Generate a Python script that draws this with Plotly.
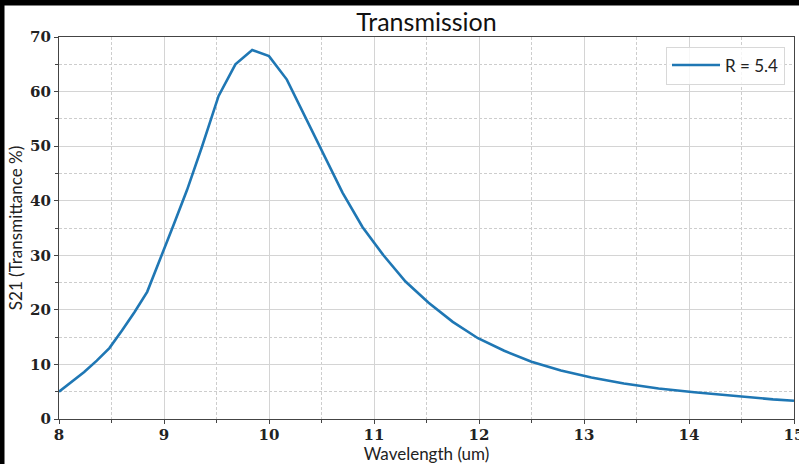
import plotly.graph_objects as go

wavelength = [8.0, 8.12, 8.24, 8.36, 8.48, 8.6, 8.72, 8.84, 8.96, 9.09, 9.22, 9.36,
              9.52, 9.68, 9.84, 10.0, 10.17, 10.34, 10.51, 10.7, 10.89, 11.09, 11.3,
              11.52, 11.75, 11.99, 12.24, 12.5, 12.78, 13.07, 13.38, 13.71, 14.05,
              14.42, 14.8, 15.0]
s21 = [5.0, 6.8, 8.6, 10.7, 13.0, 16.2, 19.6, 23.3, 29.0, 35.5, 42.0, 49.8,
       59.2, 65.0, 67.6, 66.5, 62.2, 55.6, 49.0, 41.5, 35.2, 30.0, 25.2,
       21.3, 17.8, 14.8, 12.5, 10.5, 8.9, 7.6, 6.5, 5.6, 4.9,
       4.2, 3.6, 3.35]
series_name = "R = 5.4"
x_ticks = [8, 9, 10, 11, 12, 13, 14, 15]
y_ticks = [0, 10, 20, 30, 40, 50, 60, 70]

W, H = 799, 464
L, R, T, B = 59, 5, 37, 45
pw, ph = W - L - R, H - T - B

fig = go.Figure()
fig.add_trace(go.Scatter(x=wavelength, y=s21, mode="lines", name=series_name,
                         line=dict(color="#1f77b4", width=2.6), showlegend=True))

tickfont = dict(family="DejaVu Serif", size=15, color="#222", weight="bold")
axis_common = dict(showline=True, mirror=True, linecolor="#444", linewidth=1.2,
                   showgrid=True, gridcolor="#d4d4d4", gridwidth=1,
                   ticks="outside", ticklen=4, tickcolor="#444", tickwidth=1,
                   zeroline=False, tickfont=tickfont, automargin=False,
                   ticklabeloverflow="allow")
minor_common = dict(showgrid=True, gridcolor="#cdcdcd", griddash="3px,2px",
                    ticks="outside", ticklen=3, tickcolor="#444")

fig.update_xaxes(range=[8, 15], tickvals=x_ticks, ticktext=[str(v) for v in x_ticks],
                 ticklabelstandoff=-2,
                 title=dict(text="Wavelength (um)", font=dict(family="Lato", size=17, color="#222"), standoff=5),
                 minor=dict(dtick=0.5, **minor_common),
                 **axis_common)
fig.update_yaxes(range=[0, 70], tickvals=y_ticks, ticktext=[str(v) for v in y_ticks],
                 title=dict(text="S21 (Transmittance %)", font=dict(family="Lato", size=17, color="#222"), standoff=3),
                 minor=dict(dtick=5, **minor_common),
                 **axis_common)

fig.update_layout(
    width=W, height=H,
    margin=dict(l=L, r=R, t=T, b=B, pad=0, autoexpand=False),
    paper_bgcolor="white", plot_bgcolor="white",
    title=dict(text="Transmission", x=(426.5) / W, xanchor="center", y=1 - 22 / H, yanchor="middle",
               font=dict(family="Lato", size=25, color="#111")),
    legend=dict(x=(785 - L) / pw, xanchor="right", y=(419 - 46.5) / ph, yanchor="top",
                bordercolor="#d8d8d8", borderwidth=1, bgcolor="rgba(255,255,255,0.8)",
                itemwidth=48, entrywidth=122,
                font=dict(family="Lato", size=17, color="#222")),
    showlegend=True,
)

# black bands at top and left edge of the original image
fig.add_shape(type="rect", xref="paper", yref="paper",
              x0=-L / pw, x1=(4.5 - L) / pw, y0=-B / ph, y1=(H - B) / ph,
              fillcolor="black", line=dict(width=0), layer="above")
fig.add_shape(type="rect", xref="paper", yref="paper",
              x0=-L / pw, x1=(W - L) / pw, y0=(419 - 5.5) / ph, y1=(H - B) / ph,
              fillcolor="black", line=dict(width=0), layer="above")

fig.write_html("out.html", config={"displayModeBar": False},
               post_script="document.body.style.margin='0';document.body.style.overflow='hidden';")
